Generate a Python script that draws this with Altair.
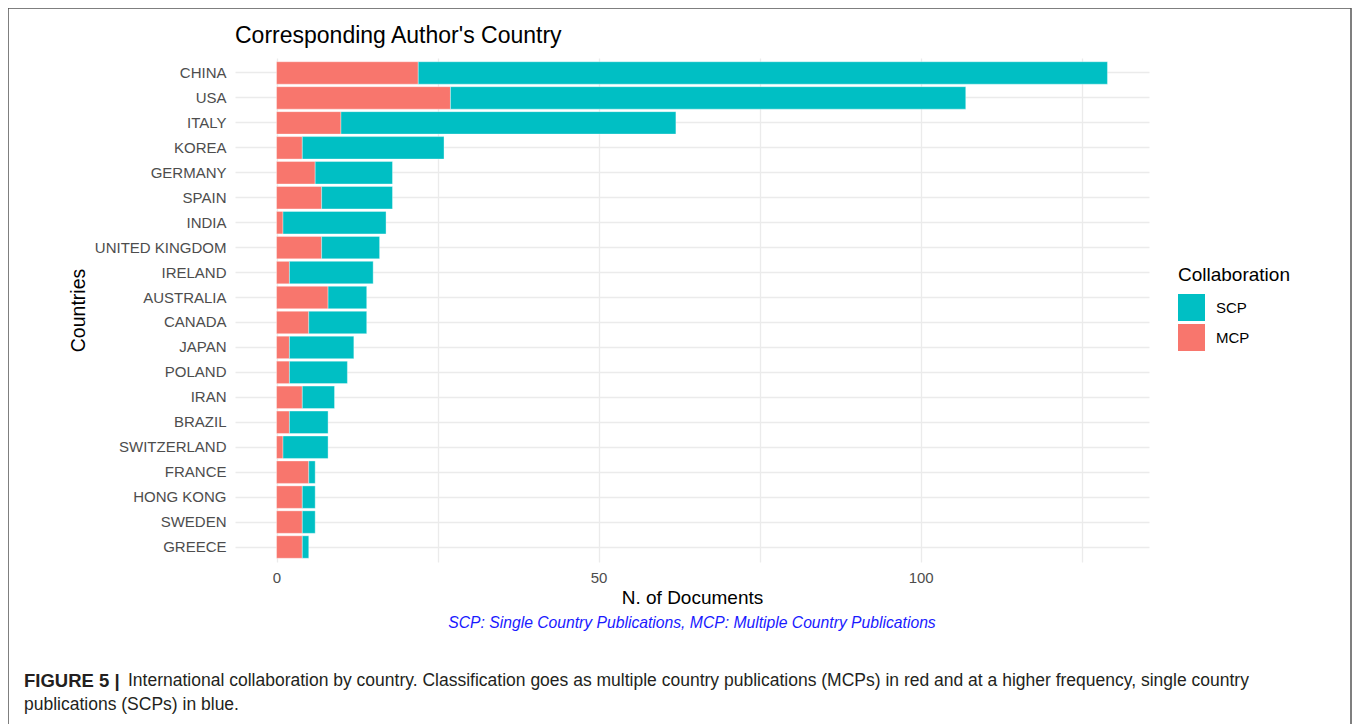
import altair as alt
import pandas as pd

countries = ["CHINA", "USA", "ITALY", "KOREA", "GERMANY", "SPAIN", "INDIA",
             "UNITED KINGDOM", "IRELAND", "AUSTRALIA", "CANADA", "JAPAN",
             "POLAND", "IRAN", "BRAZIL", "SWITZERLAND", "FRANCE", "HONG KONG",
             "SWEDEN", "GREECE"]
mcp = [22, 27, 10, 4, 6, 7, 1, 7, 2, 8, 5, 2, 2, 4, 2, 1, 5, 4, 4, 4]
scp = [107, 80, 52, 22, 12, 11, 16, 9, 13, 6, 9, 10, 9, 5, 6, 7, 1, 2, 2, 1]
x_ticks = [0, 25, 50, 75, 100, 125]

rows = []
for c, m, s in zip(countries, mcp, scp):
    rows.append({"country": c, "Collaboration": "MCP", "value": m, "ord": 0})
    rows.append({"country": c, "Collaboration": "SCP", "value": s, "ord": 1})
df = pd.DataFrame(rows)

W, H = 914, 504
FONT = "Liberation Sans"

bars = alt.Chart(df).mark_bar(stroke="white", strokeWidth=0.6, strokeOpacity=0.6).encode(
    x=alt.X("value:Q", stack="zero",
            scale=alt.Scale(domain=[-6.45, 135.45], nice=False, zero=False),
            axis=alt.Axis(values=x_ticks,
                          labelExpr="datum.value % 50 == 0 ? datum.label : ''",
                          title="N. of Documents", ticks=False, domain=False,
                          labelPadding=8, labelFontSize=15, labelColor="#4d4d4d",
                          labelFont=FONT, titleFont=FONT, titleFontSize=19,
                          titleFontWeight="normal", titleColor="black",
                          titlePadding=3, gridColor="#ebebeb", gridWidth=1.3)),
    y=alt.Y("country:N", sort=countries,
            scale=alt.Scale(paddingInner=0.1, paddingOuter=0.15),
            axis=alt.Axis(title="Countries", bandPosition=0.5, ticks=False,
                          domain=False, labelPadding=9, labelFontSize=15,
                          labelColor="#4d4d4d", labelFont=FONT, titleFont=FONT,
                          titleFontSize=19.5, titleFontWeight="normal",
                          titleColor="black", titlePadding=6,
                          gridColor="#ebebeb", gridWidth=1.3, grid=True)),
    color=alt.Color("Collaboration:N",
                    scale=alt.Scale(domain=["SCP", "MCP"], range=["#00BFC4", "#F8766D"]),
                    legend=alt.Legend(title="Collaboration", orient="none",
                                      legendX=943, legendY=208,
                                      symbolType="square", symbolSize=729,
                                      symbolStrokeWidth=0, symbolOpacity=1,
                                      labelFontSize=15, labelFont=FONT,
                                      labelColor="black", labelOffset=11,
                                      titleFontSize=19, titleFont=FONT,
                                      titleFontWeight="normal", titleColor="black",
                                      titlePadding=9, rowPadding=3)),
    order=alt.Order("ord:Q", sort="ascending"),
)

dummy = alt.Data(values=[{"a": 1}])

title = alt.Chart(dummy).mark_text(align="left", baseline="middle", fontSize=23,
                                   font=FONT, color="black").encode(
    x=alt.value(0), y=alt.value(-22), text=alt.value("Corresponding Author's Country"))

subcap = alt.Chart(dummy).mark_text(align="center", baseline="middle", fontSize=15.7,
                                    font=FONT, fontStyle="italic", color="#1a1aff").encode(
    x=alt.value(W / 2), y=alt.value(565),
    text=alt.value("SCP: Single Country Publications, MCP: Multiple Country Publications"))

cap_bold = alt.Chart(dummy).mark_text(align="left", baseline="middle", fontSize=18.5,
                                      font=FONT, fontWeight="bold", color="#231f20").encode(
    x=alt.value(-211), y=alt.value(623), text=alt.value("FIGURE 5 |"))

cap1 = alt.Chart(dummy).mark_text(align="left", baseline="middle", fontSize=17.5,
                                  font=FONT, color="#231f20").encode(
    x=alt.value(-107), y=alt.value(623),
    text=alt.value("International collaboration by country. Classification goes as multiple country publications (MCPs) in red and at a higher frequency, single country"))

cap2 = alt.Chart(dummy).mark_text(align="left", baseline="middle", fontSize=17.5,
                                  font=FONT, color="#231f20").encode(
    x=alt.value(-211), y=alt.value(647),
    text=alt.value("publications (SCPs) in blue."))

frame = alt.Chart(dummy).mark_rect(fill="transparent", stroke="#555", strokeWidth=1.5).encode(
    x=alt.value(-227), x2=alt.value(1116), y=alt.value(-50), y2=alt.value(800))

chart = alt.layer(frame, bars, title, subcap, cap_bold, cap1, cap2).properties(
    width=W, height=H,
    autosize=alt.AutoSizeParams(type="none"),
    padding={"left": 227, "top": 50, "right": 203, "bottom": 162},
    background="white",
).configure_view(strokeWidth=0, stroke="transparent")

chart.save("out.html", embed_options={"renderer": "svg", "actions": False})
